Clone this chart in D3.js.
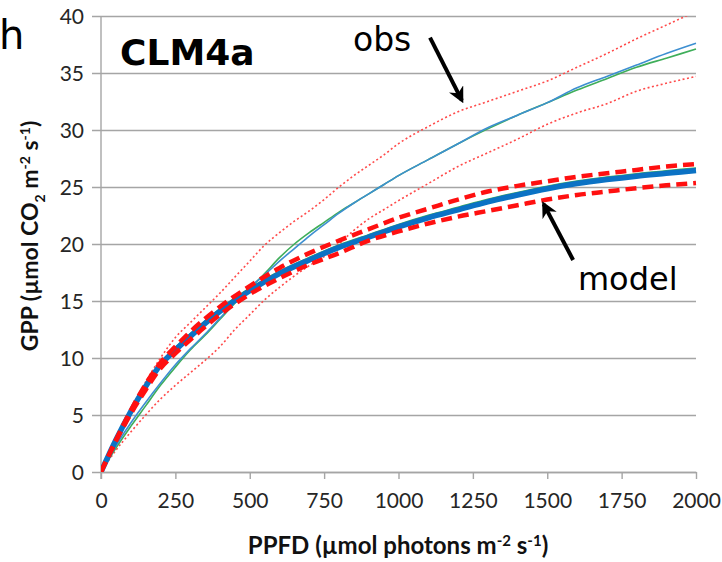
<!DOCTYPE html>
<html>
<head>
<meta charset="utf-8">
<script src="https://cdn.jsdelivr.net/npm/d3@7"></script>
<style>
  body { margin: 0; background: #fff; }
  .tick text { font-family: Lato, "Open Sans", sans-serif; font-size: 21px; fill: #262626; }
  .axisTitle { font-family: Lato, "Open Sans", sans-serif; font-weight: bold; fill: #111; }
  .note { font-family: "DejaVu Sans", sans-serif; fill: #000; }
</style>
</head>
<body>
<div id="graph"></div>
<script>
var svgWidth = 722;
var svgHeight = 562;

// x values (PPFD) for the observed curves and for the model curves
var ppfdObs = [0, 50, 100, 150, 200, 250, 300, 350, 400, 450, 500, 550, 600, 650, 700, 750, 800, 850, 900, 950, 1000,
  1100, 1200, 1300, 1400, 1500, 1600, 1700, 1800, 1900, 2000];
var ppfdModel = [0, 50, 100, 150, 200, 250, 300, 400, 500, 600, 700, 800, 900, 1000,
  1100, 1200, 1300, 1400, 1500, 1600, 1700, 1800, 1900, 2000];

// observed GPP (thin lines) and its band (dotted)
var obsBlue = [0, 2.3, 4.3, 6.1, 7.8, 9.4, 10.8, 12.1, 13.5, 14.9, 16.2, 17.3, 18.5, 19.6, 20.7, 21.7, 22.7, 23.6, 24.4, 25.2, 26.0,
  27.4, 28.8, 30.2, 31.3, 32.4, 33.7, 34.7, 35.7, 36.7, 37.6];
var obsGreen = [0, 2.1, 4.0, 5.8, 7.6, 9.2, 10.7, 12.0, 13.4, 14.8, 16.1, 17.4, 18.8, 20.0, 21.0, 21.9, 22.8, 23.6, 24.4, 25.2, 26.0,
  27.4, 28.8, 30.1, 31.3, 32.4, 33.5, 34.5, 35.5, 36.3, 37.1];
var obsUpper = [0, 2.6, 5.4, 7.9, 10.0, 11.8, 13.1, 14.4, 15.7, 17.1, 18.5, 19.9, 21.0, 22.0, 22.9, 23.9, 25.0, 26.0, 26.9, 27.8, 28.8,
  30.3, 31.6, 32.5, 33.4, 34.3, 35.5, 36.7, 38.0, 39.2, 40.4];
var obsLower = [0, 1.9, 3.5, 5.0, 6.4, 7.6, 8.7, 9.8, 11.0, 12.5, 13.8, 15.1, 16.2, 17.2, 18.1, 18.9, 20.0, 21.2, 22.2, 23.0, 23.8,
  25.3, 26.8, 28.0, 29.2, 30.5, 31.5, 32.3, 33.4, 34.1, 34.7];

// modelled GPP (thick lines) and its band (dashed)
var modelMean = [0, 2.8, 5.3, 7.5, 9.4, 10.7, 11.9, 14.1, 15.9, 17.4, 18.6, 19.7, 20.6, 21.5,
  22.3, 23.0, 23.7, 24.3, 24.85, 25.3, 25.65, 25.95, 26.2, 26.45];
var modelGreen = [0, 2.9, 5.4, 7.6, 9.5, 10.9, 12.1, 14.3, 16.1, 17.6, 18.8, 19.9, 20.8, 21.7,
  22.5, 23.2, 23.9, 24.5, 25.05, 25.5, 25.85, 26.15, 26.4, 26.65];
var modelUpper = [0, 2.8, 5.4, 7.7, 9.6, 11.0, 12.3, 14.5, 16.3, 17.9, 19.2, 20.3, 21.3, 22.3,
  23.1, 23.9, 24.6, 25.1, 25.5, 25.9, 26.2, 26.5, 26.8, 27.0];
var modelLower = [0, 2.7, 5.1, 7.2, 9.1, 10.4, 11.6, 13.8, 15.6, 17.0, 18.2, 19.2, 20.3, 21.1,
  21.8, 22.4, 22.9, 23.4, 23.9, 24.3, 24.6, 24.9, 25.15, 25.35];

var xTicks = [0, 250, 500, 750, 1000, 1250, 1500, 1750, 2000];
var yTicks = [0, 5, 10, 15, 20, 25, 30, 35, 40];

var margin = { top: 16, right: 26, bottom: 90, left: 101 };
var width = svgWidth - margin.left - margin.right;
var height = svgHeight - margin.top - margin.bottom;

var svg = d3.select("#graph").append("svg")
  .attr("width", svgWidth)
  .attr("height", svgHeight)
  .style("background", "#fff");

var chartGroup = svg.append("g")
  .attr("transform", `translate(${margin.left}, ${margin.top})`);

var x = d3.scaleLinear().domain([0, 2000]).range([0, width]);
var y = d3.scaleLinear().domain([0, 40]).range([height, 0]);

// horizontal gridlines + y labels
var yAxis = d3.axisLeft(y).tickValues(yTicks).tickSize(-width).tickSizeOuter(0).tickPadding(17);
var yg = chartGroup.append("g").call(yAxis);
yg.select(".domain").remove();
yg.selectAll(".tick line").attr("stroke", "#a5a5a5").attr("stroke-width", 1.4).attr("x1", -9);
yg.selectAll(".tick text").attr("dy", "0.36em");

// vertical axis line
chartGroup.append("line")
  .attr("x1", 0).attr("x2", 0)
  .attr("y1", 0).attr("y2", height + 7)
  .attr("stroke", "#a5a5a5").attr("stroke-width", 1.4);

var xAxis = d3.axisBottom(x).tickValues(xTicks).tickFormat(d3.format("d"))
  .tickSize(7).tickSizeOuter(0).tickPadding(14);
var xg = chartGroup.append("g")
  .attr("transform", `translate(0, ${height})`)
  .call(xAxis);
xg.select(".domain").attr("stroke", "#a5a5a5").attr("stroke-width", 1.4);
xg.selectAll(".tick line").attr("stroke", "#a5a5a5").attr("stroke-width", 1.4);
xg.selectAll(".tick text").attr("dy", "0.71em");

svg.append("clipPath").attr("id", "plotClip")
  .append("rect").attr("x", 0).attr("y", 0).attr("width", width + 2).attr("height", height);

var plot = chartGroup.append("g").attr("clip-path", "url(#plotClip)");

function series(xs, ys) {
  return xs.map((d, i) => [d, ys[i]]);
}

var line = d3.line()
  .x(d => x(d[0]))
  .y(d => y(d[1]))
  .curve(d3.curveMonotoneX);

var lines = [
  { xs: ppfdObs, ys: obsUpper, color: "#ff4a4a", w: 1.6, dash: "2,2.5" },
  { xs: ppfdObs, ys: obsLower, color: "#ff4a4a", w: 1.6, dash: "2,2.5" },
  { xs: ppfdObs, ys: obsGreen, color: "#3fae5a", w: 1.6, dash: null },
  { xs: ppfdObs, ys: obsBlue, color: "#3d8fd1", w: 1.6, dash: null },
  { xs: ppfdModel, ys: modelGreen, color: "#3fae5a", w: 2, dash: null },
  { xs: ppfdModel, ys: modelMean, color: "#0b72c4", w: 5.5, dash: null },
  { xs: ppfdModel, ys: modelUpper, color: "#ff1010", w: 4.5, dash: "11,6" },
  { xs: ppfdModel, ys: modelLower, color: "#ff1010", w: 4.5, dash: "11,6" }
];

plot.selectAll("path.series")
  .data(lines)
  .enter()
  .append("path")
  .attr("class", "series")
  .attr("d", d => line(series(d.xs, d.ys)))
  .attr("fill", "none")
  .attr("stroke", d => d.color)
  .attr("stroke-width", d => d.w)
  .attr("stroke-dasharray", d => d.dash)
  .attr("stroke-linejoin", "round");

// annotations, placed in data units
svg.append("defs").append("marker")
  .attr("id", "head")
  .attr("viewBox", "0 0 10 10")
  .attr("refX", 8).attr("refY", 5)
  .attr("markerWidth", 4).attr("markerHeight", 4)
  .attr("orient", "auto")
  .append("path").attr("d", "M0,0 L10,5 L0,10 L3,5 Z").attr("fill", "#000");

var arrows = [
  { from: [1106, 38.1], to: [1213, 32.6] },
  { from: [1587, 18.6], to: [1488, 23.5] }
];
chartGroup.selectAll("line.arrow")
  .data(arrows)
  .enter()
  .append("line")
  .attr("class", "arrow")
  .attr("x1", d => x(d.from[0])).attr("y1", d => y(d.from[1]))
  .attr("x2", d => x(d.to[0])).attr("y2", d => y(d.to[1]))
  .attr("stroke", "#000").attr("stroke-width", 4)
  .attr("marker-end", "url(#head)");

chartGroup.append("text").attr("class", "note")
  .attr("x", x(847)).attr("y", y(36.9))
  .attr("font-size", "33px")
  .text("obs");

chartGroup.append("text").attr("class", "note")
  .attr("x", x(1603)).attr("y", y(16.0))
  .attr("font-size", "32px")
  .text("model");

chartGroup.append("text").attr("class", "note")
  .attr("x", x(64)).attr("y", y(35.7))
  .attr("font-size", "36px")
  .attr("font-weight", "bold")
  .text("CLM4a");

svg.append("text").attr("class", "note")
  .attr("x", -1).attr("y", 49)
  .attr("font-size", "40px")
  .text("h");

// axis titles
svg.append("text")
  .attr("class", "axisTitle")
  .attr("font-size", "24px")
  .attr("text-anchor", "middle")
  .attr("x", 398)
  .attr("y", 554)
  .call(t => {
    t.append("tspan").text("PPFD (\u00b5mol photons m");
    t.append("tspan").attr("dy", -8).attr("font-size", "15px").text("-2");
    t.append("tspan").attr("dy", 8).text(" s");
    t.append("tspan").attr("dy", -8).attr("font-size", "15px").text("-1");
    t.append("tspan").attr("dy", 8).text(")");
  });

svg.append("text")
  .attr("class", "axisTitle")
  .attr("font-size", "23px")
  .attr("text-anchor", "middle")
  .attr("transform", "translate(38, 236) rotate(-90)")
  .call(t => {
    t.append("tspan").text("GPP (\u00b5mol CO");
    t.append("tspan").attr("dy", 7).attr("font-size", "14px").text("2");
    t.append("tspan").attr("dy", -7).text(" m");
    t.append("tspan").attr("dy", -8).attr("font-size", "14px").text("-2");
    t.append("tspan").attr("dy", 8).text(" s");
    t.append("tspan").attr("dy", -8).attr("font-size", "14px").text("-1");
    t.append("tspan").attr("dy", 8).text(")");
  });
</script>
</body>
</html>
